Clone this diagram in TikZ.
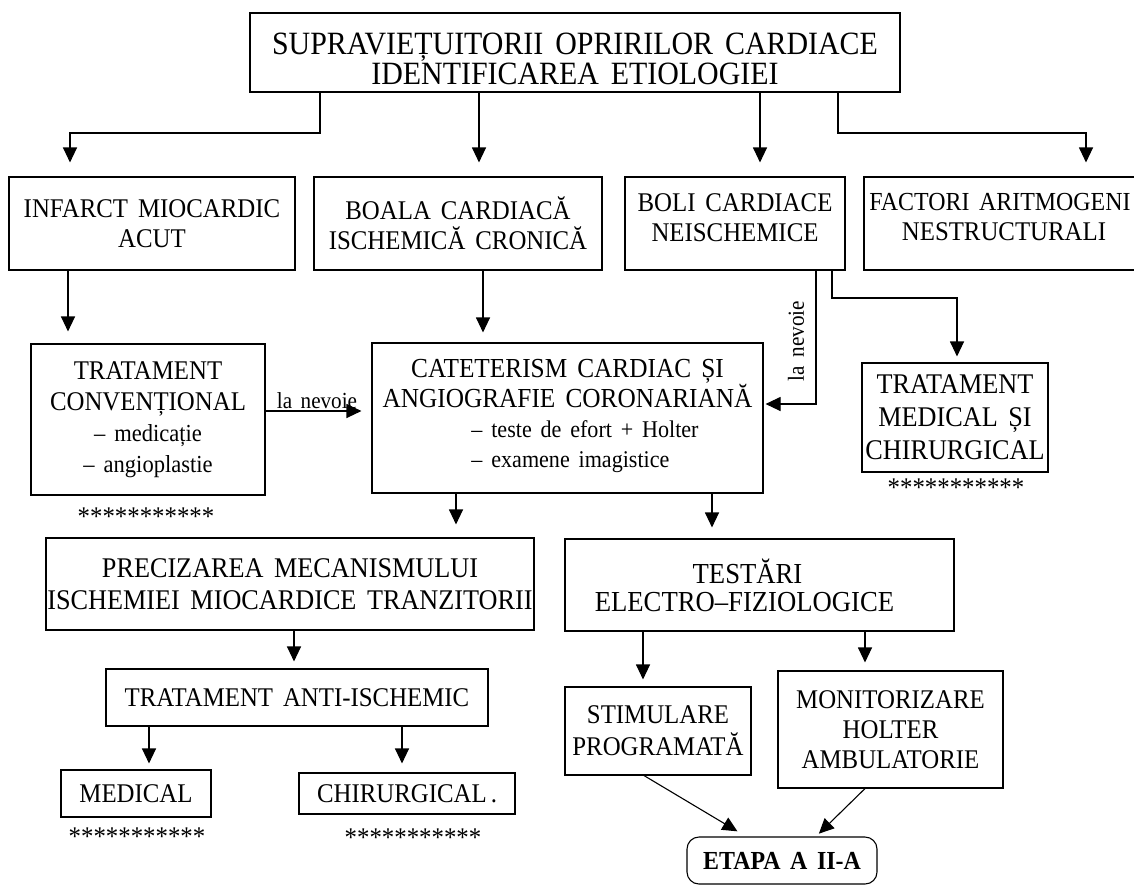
\documentclass[tikz,border=0pt]{standalone}
\usepackage{fontspec}
\setmainfont{Liberation Serif}[WordSpace=1.6, FakeStretch=0.92]
\usetikzlibrary{arrows.meta}
\begin{document}
\begin{tikzpicture}[x=1pt,y=-1pt,
  box/.style={draw, line width=1.1pt, inner sep=0pt, align=center,
    font=\fontsize{27}{30}\selectfont},
  arr/.style={line width=1.1pt, -{Triangle[width=14pt,length=15pt]}},
  stars/.style={font=\fontsize{27}{30}\selectfont, inner sep=0pt},
  note/.style={font=\fontsize{23}{24}\selectfont, inner sep=0pt}
]
\useasboundingbox (0,0) rectangle (1134,887);
\fill[white] (0,0) rectangle (1134,887);
\clip (0,0) rectangle (1134,887);

% --- title box
\node[box, minimum width=650, minimum height=79, font=\fontsize{32.5}{30}\selectfont]
  (top) at (575,52.5) {\rule{0pt}{34pt}SUPRAVIEȚUITORII OPRIRILOR CARDIACE\\IDENTIFICAREA ETIOLOGIEI};

% --- etiologies
\node[box, minimum width=286, minimum height=93] (infarct) at (152,223.5) {INFARCT MIOCARDIC\\ACUT};
\node[box, minimum width=288, minimum height=93] (boala) at (458,223.5) {BOALA CARDIACĂ\\ISCHEMICĂ CRONICĂ};
\node[box, minimum width=220, minimum height=93] (boli) at (735,223.5) {BOLI CARDIACE\\NEISCHEMICE\rule[-12pt]{0pt}{12pt}};
\node[box, minimum width=280, minimum height=93] (factori) at (1004,223.5)
  {{\fontsize{26}{30}\selectfont FACTORI ARITMOGENI}\hspace*{8pt}\\NESTRUCTURALI\rule[-13pt]{0pt}{13pt}};

% --- investigations and treatment
\node[box, minimum width=234, minimum height=151, font=\fontsize{27}{31}\selectfont]
  (trat) at (148,419.5) {TRATAMENT\\CONVENȚIONAL\\{\fontsize{24.5}{31}\selectfont – medicație}\\{\fontsize{24.5}{31}\selectfont – angioplastie}};
\node[box, minimum width=391, minimum height=150, font=\fontsize{27.5}{30}\selectfont] (cat) at (567.5,418)
  {CATETERISM CARDIAC ȘI\\ANGIOGRAFIE CORONARIANĂ\\\hspace*{35pt}{\fontsize{24}{30}\selectfont\begin{tabular}[t]{@{}l@{}}– teste de efort + Holter\\– examene imagistice\end{tabular}}};
\node[box, minimum width=186, minimum height=109, font=\fontsize{28.5}{33}\selectfont]
  (tratmed) at (955,417.5) {TRATAMENT\\MEDICAL ȘI\\CHIRURGICAL};

\node[stars] (s1) at (146,516.5) {***********};
\node[stars] (s2) at (956,487.5) {***********};

\node[box, minimum width=488, minimum height=92, font=\fontsize{28.5}{32}\selectfont]
  (prec) at (290,584) {PRECIZAREA MECANISMULUI\\ISCHEMIEI MIOCARDICE TRANZITORII};
\node[box, minimum width=389, minimum height=92, font=\fontsize{29}{28}\selectfont]
  (test) at (759.5,585) {TESTĂRI\hspace*{24pt}\\ELECTRO–FIZIOLOGICE\hspace*{30pt}};

\node[box, minimum width=382, minimum height=57] (anti) at (297,697.5) {TRATAMENT ANTI-ISCHEMIC};
\node[box, minimum width=186, minimum height=88, font=\fontsize{27}{32}\selectfont]
  (stim) at (658,731) {STIMULARE\\PROGRAMATĂ};
\node[box, minimum width=225, minimum height=117] (mon) at (890.5,729.5) {MONITORIZARE\\HOLTER\\AMBULATORIE};

\node[box, minimum width=150, minimum height=47] (med) at (136,793.5) {MEDICAL};
\node[box, minimum width=216, minimum height=41] (chir) at (407,793.5) {CHIRURGICAL\hspace{4pt}.};
\node[stars] (s3) at (137,836.5) {***********};
\node[stars] (s4) at (413,837.5) {***********};

\node[box, rounded corners=12pt, minimum width=190, minimum height=47,
  font=\fontsize{26}{28}\selectfont\bfseries] (etapa) at (782,860.5) {ETAPA A II-A};

% --- labels on connectors
\node[note] (ln1) at (317,401) {la nevoie};
\node[note, rotate=90] (ln2) at (796,341) {la nevoie};

% --- connectors
\draw[arr, shorten >=14pt] (top.south -| 320,0) -- (320,133) -| (infarct.north -| 70,0);
\draw[arr, shorten >=14pt] (top.south -| 479,0) -- (boala.north -| 479,0);
\draw[arr, shorten >=14pt] (top.south -| 760,0) -- (boli.north -| 760,0);
\draw[arr, shorten >=14pt] (top.south -| 838,0) -- (838,133) -| (factori.north -| 1086,0);

\draw[arr, shorten >=12pt] (infarct.south -| 68,0) -- (trat.north -| 68,0);
\draw[arr, shorten >=10pt] (boala.south -| 483,0) -- (cat.north -| 483,0);
\draw[arr, shorten >=10pt] (trat.east |- 0,411) -- (cat.west |- 0,411);
\draw[arr, shorten >=2pt] (boli.south -| 816,0) |- (cat.east |- 0,404);
\draw[arr, shorten >=6pt] (boli.south -| 832,0) -- (832,298) -| (tratmed.north -| 957,0);

\draw[arr, shorten >=13pt] (cat.south -| 456,0) -- (prec.north -| 456,0);
\draw[arr, shorten >=11pt] (cat.south -| 712,0) -- (test.north -| 712,0);
\draw[arr, shorten >=7pt] (prec.south -| 294,0) -- (anti.north -| 294,0);
\draw[arr, shorten >=7pt] (test.south -| 643,0) -- (stim.north -| 643,0);
\draw[arr, shorten >=8pt] (test.south -| 865,0) -- (mon.north -| 865,0);
\draw[arr, shorten >=6pt] (anti.south -| 149,0) -- (med.north -| 149,0);
\draw[arr, shorten >=9pt] (anti.south -| 402,0) -- (chir.north -| 402,0);
\draw[arr, shorten >=10pt] (stim.south -| 644,0) -- (etapa.north -| 746,0);
\draw[arr, shorten >=4pt] (mon.south -| 865,0) -- (etapa.north -| 816,0);
\end{tikzpicture}
\end{document}
